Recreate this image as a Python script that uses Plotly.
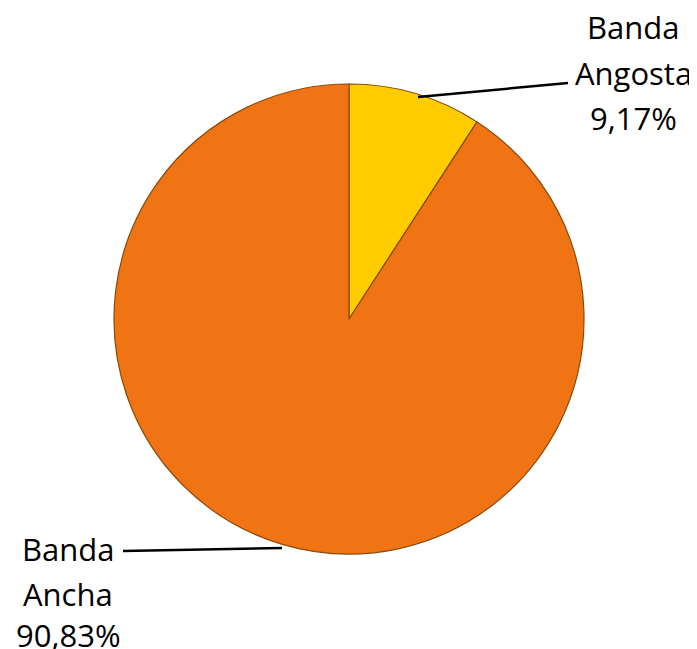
import plotly.graph_objects as go

categories = ["Banda Angosta", "Banda Ancha"]
values = [9.17, 90.83]
label_lines = [["Banda", "Angosta"], ["Banda", "Ancha"]]
colors = ["#FFCC00", "#F07414"]

# the page body adds an 8px margin; draw in an area shifted accordingly
OFF = 8
W, H = 697 - OFF, 649 - OFF

def px(x):
    return (x - OFF) / W

def py(y):
    return 1 - (y - OFF) / H

def fmt(v):
    return f"{v:.2f}".replace(".", ",") + "%"

fig = go.Figure(go.Pie(
    labels=categories, values=values, sort=False, direction="clockwise",
    rotation=0, textinfo="none", hoverinfo="label+percent",
    marker=dict(colors=colors, line=dict(color="#8a4a0a", width=1.2)),
    domain=dict(x=[px(349 - 235), px(349 + 235)], y=[py(554), py(84)]),
    showlegend=False,
))

font = dict(family="Open Sans", size=31, color="#000000")
label_pos = [(633, [27, 73, 118]), (68, [549, 594, 635])]
for (lines, v, (cx, ys)) in zip(label_lines, values, label_pos):
    texts = lines + [fmt(v)]
    for t, y in zip(texts, ys):
        fig.add_annotation(x=px(cx), y=py(y), xref="paper", yref="paper",
                           text=t, showarrow=False, font=font,
                           xanchor="center", yanchor="middle")

leaders = [((418, 97), (568, 83)), ((123, 551), (282, 548))]
for (x0, y0), (x1, y1) in leaders:
    fig.add_shape(type="line", xref="paper", yref="paper",
                  x0=px(x0), y0=py(y0), x1=px(x1), y1=py(y1),
                  line=dict(color="#000000", width=2.5))

fig.update_layout(width=W, height=H, margin=dict(l=0, r=0, t=0, b=0),
                  paper_bgcolor="white", plot_bgcolor="white")
fig.write_html("out.html")
